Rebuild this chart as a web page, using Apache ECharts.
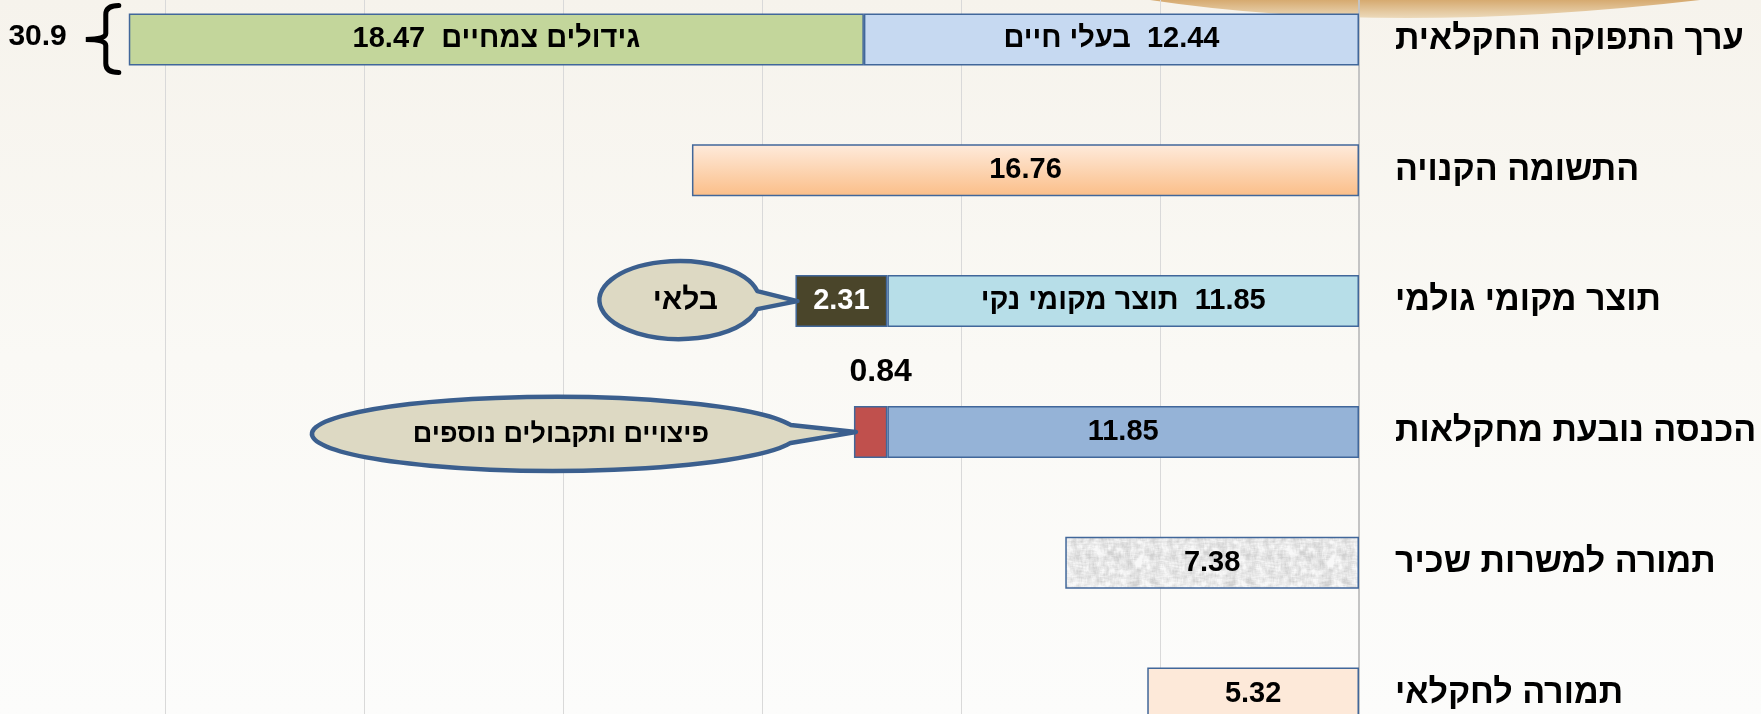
<!DOCTYPE html>
<html><head><meta charset="utf-8">
<script src="https://cdn.jsdelivr.net/npm/echarts@6/dist/echarts.min.js"></script>
<style>html,body{margin:0;padding:0;background:#fff}#c{width:1761px;height:714px}</style>
</head><body><div id="c"></div>
<script>
// ---- data ----
const categories = ['ערך התפוקה החקלאית', 'התשומה הקנויה', 'תוצר מקומי גולמי', 'הכנסה נובעת מחקלאות', 'תמורה למשרות שכיר', 'תמורה לחקלאי'];
const baseValues = [12.44, 16.76, 11.85, 11.85, 7.38, 5.32];
const baseNames = ['בעלי חיים', '', 'תוצר מקומי נקי', '', '', ''];
const addValues = [18.47, null, 2.31, 0.84, null, null];
const addNames = ['גידולים צמחיים', '', '', '', '', ''];
const calloutCats = [2, 3];
const calloutTexts = ['בלאי', 'פיצויים ותקבולים נוספים'];
const axisMin = 0, axisMax = 35, axisStep = 5;

(function () {
// ---- styles ----
function grayTexture() {
  const s = 96, cv = document.createElement('canvas');
  cv.width = s; cv.height = s;
  const ctx = cv.getContext('2d');
  const img = ctx.createImageData(s, s);
  const h = (x, y) => { const v = Math.sin(x * 12.9898 + y * 78.233) * 43758.5453; return v - Math.floor(v); };
  const raw = [];
  for (let y = 0; y < s; y++) for (let x = 0; x < s; x++) raw.push(h(x, y));
  for (let y = 0; y < s; y++) for (let x = 0; x < s; x++) {
    let sum = 0, n = 0;
    for (let dy = -2; dy <= 2; dy++) for (let dx = -2; dx <= 2; dx++) {
      sum += raw[((y + dy + s) % s) * s + ((x + dx + s) % s)]; n++;
    }
    const v = sum / n;
    const g = Math.round(230 + (v - 0.5) * 160);
    const c = Math.max(208, Math.min(248, g));
    const i = (y * s + x) * 4;
    img.data[i] = c; img.data[i + 1] = c; img.data[i + 2] = c; img.data[i + 3] = 255;
  }
  ctx.putImageData(img, 0, 0);
  return cv;
}
const RLM = '\u200F';
const orangeGrad = new echarts.graphic.LinearGradient(0, 0, 0, 1, [
  { offset: 0, color: '#FEEBDC' }, { offset: 1, color: '#FBBE88' }]);
const baseColors = ['#C6D9F1', orangeGrad, '#B7DEE8', '#95B3D7', { image: grayTexture(), repeat: 'repeat' }, '#FDE9D9'];
const addColors = ['#C3D69B', null, '#4A452A', '#C0504D', null, null];
const borderCol = '#41679A';
const font = 'Liberation Sans';
const fmt = v => v.toFixed(2);

// number shown to the right of the name
const baseData = baseValues.map((v, i) => ({
  value: v,
  itemStyle: { color: baseColors[i] },
  label: { formatter: baseNames[i] ? RLM + fmt(v) + '  ' + baseNames[i] : fmt(v) }
}));
// number shown to the left of the name
const addData = addValues.map((v, i) => {
  if (v == null) return null;
  const d = { value: v, itemStyle: { color: addColors[i] },
    label: { formatter: addNames[i] ? addNames[i] + '  ' + fmt(v) : fmt(v) } };
  if (i === 2) d.label.color = '#FFFFFF';
  if (i === 3) { d.label.position = 'top'; d.label.distance = 18; d.label.offset = [10, 0]; d.label.fontSize = 32; }
  return d;
});

const chart = echarts.init(document.getElementById('c'));
const option = {
  animation: false,
  backgroundColor: new echarts.graphic.LinearGradient(0, 0, 0, 1, [
    { offset: 0, color: '#F6F3EC' }, { offset: 0.5, color: '#FAF9F5' }, { offset: 1, color: '#FCFCFB' }]),
  grid: { left: -34, right: 402, top: -26, height: 785, containLabel: false, outerBoundsMode: 'none' },
  xAxis: {
    type: 'value', inverse: true, min: axisMin, max: axisMax, interval: axisStep,
    axisLabel: { show: false }, axisTick: { show: false }, axisLine: { show: false },
    splitLine: { show: true, lineStyle: { color: '#D9D9D9', width: 1 } }
  },
  yAxis: {
    type: 'category', inverse: true, position: 'right', data: categories,
    axisTick: { show: false },
    axisLine: { show: true, lineStyle: { color: '#C4C4C4', width: 2 } },
    axisLabel: { margin: 36, color: '#000', fontSize: 34, fontWeight: 'bold', fontFamily: font, padding: [6, 0, 0, 0] }
  },
  series: [
    { type: 'bar', stack: 't', barWidth: 52, data: baseData,
      itemStyle: { borderColor: borderCol, borderWidth: 1.5 },
      label: { show: true, position: 'inside', color: '#000', fontSize: 29, fontWeight: 'bold', fontFamily: font } },
    { type: 'bar', stack: 't', barWidth: 52, data: addData,
      itemStyle: { borderColor: borderCol, borderWidth: 1.5 },
      label: { show: true, position: 'inside', color: '#000', fontSize: 29, fontWeight: 'bold', fontFamily: font } }
  ]
};
chart.setOption(option);

// ---- annotations anchored to bar geometry ----
const zr = chart.getZr();
const px = (v, c) => chart.convertToPixel({ gridIndex: 0 }, [v, c]);
const addPath = (d, style, z) => { zr.add(echarts.graphic.makePath(d, { style: style, z: z, silent: true })); };
const addText = (x, y, text, f, align) => {
  zr.add(new echarts.graphic.Text({ x: x, y: y, z: 101, silent: true,
    style: { text: text, font: f, fill: '#000', align: align || 'center', verticalAlign: 'middle' } }));
};

// decorative tan sweep at top-right
addPath('M1150 0 Q1390 36 1700 0 Z', { fill: new echarts.graphic.LinearGradient(0, 0, 0, 1, [
  { offset: 0, color: '#D6AA70' }, { offset: 1, color: '#ECDABB' }]) }, -1);

// total brace for first bar
const tot0 = baseValues[0] + addValues[0];
const p0 = px(tot0, 0);
const bx = p0[0], by = p0[1];
const yTop = by - 34, yBot = by + 33, vx = bx - 23, nx = bx - 43;
addPath(`M${bx - 10} ${yTop} Q${vx} ${yTop} ${vx} ${yTop + 9} L${vx} ${by - 6} Q${vx} ${by} ${nx} ${by} Q${vx} ${by} ${vx} ${by + 6} L${vx} ${yBot - 9} Q${vx} ${yBot} ${bx - 10} ${yBot}`,
  { fill: 'none', stroke: '#000', lineWidth: 5, lineCap: 'round' }, 100);
addText(bx - 62, by - 3, tot0.toFixed(1), 'bold 30px "Liberation Sans"', 'right');

// callouts
const bubbleGeom = [{ dx: -116, dy: -1, rx: 80, ry: 39, fs: 30 }, { dx: -299, dy: 2, rx: 243, ry: 37, fs: 27 }];
calloutCats.forEach((c, k) => {
  const t = px(baseValues[c] + addValues[c], c);
  const tipX = t[0] + 2, tipY = t[1];
  const g = bubbleGeom[k];
  const cx = t[0] + g.dx, cy = t[1] + g.dy;
  const dyb = 9, dxb = g.rx * Math.sqrt(1 - (dyb / g.ry) * (dyb / g.ry));
  const x1 = cx + dxb;
  const d = `M${x1} ${cy - dyb} A${g.rx} ${g.ry} 0 1 0 ${x1} ${cy + dyb} L${tipX} ${tipY} Z`;
  addPath(d, { fill: '#DDD9C3', stroke: '#3B5F8E', lineWidth: 4.5, lineJoin: 'round' }, 100);
  addText(cx + 6, cy + 1, calloutTexts[k], 'bold ' + g.fs + 'px "Liberation Sans"');
});
})();
</script></body></html>
